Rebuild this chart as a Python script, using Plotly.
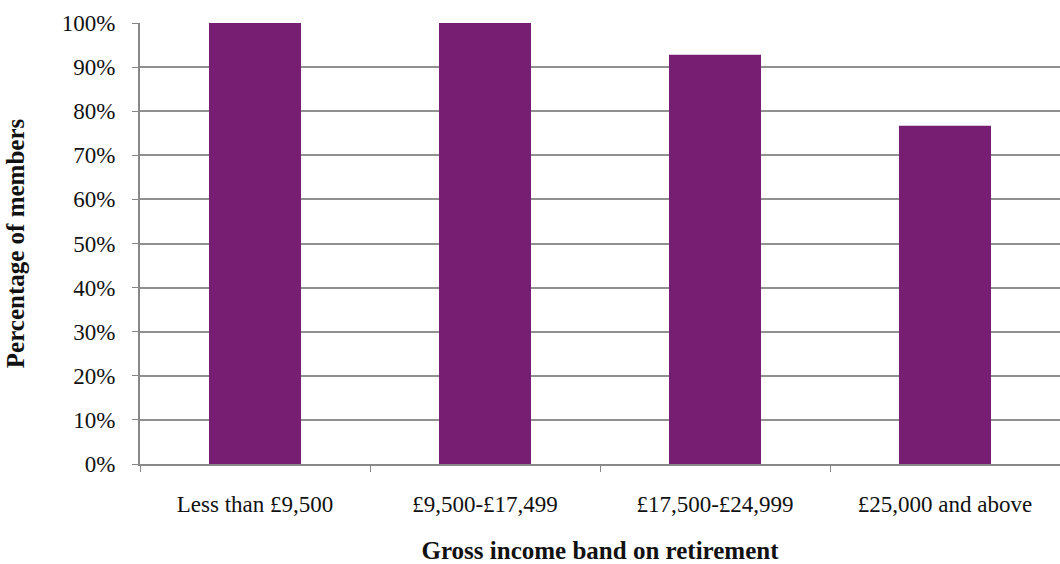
import plotly.graph_objects as go

categories = ["Less than £9,500", "£9,500-£17,499", "£17,500-£24,999", "£25,000 and above"]
values = [100, 100, 92.8, 76.7]
y_ticks = [0, 10, 20, 30, 40, 50, 60, 70, 80, 90, 100]
y_tick_labels = [f"{v}%" for v in y_ticks]

FONT = "Liberation Serif"

fig = go.Figure(go.Bar(x=categories, y=values, marker=dict(color="#781E72", line=dict(width=0)), width=0.4))

fig.update_layout(
    width=1060, height=564,
    margin=dict(l=140, r=0, t=23, b=100),
    paper_bgcolor="white", plot_bgcolor="white",
    font=dict(family=FONT, size=23, color="#111"),
    showlegend=False,
    xaxis=dict(
        type="category", tickson="boundaries", ticks="outside", ticklen=6, tickcolor="#888",
        showline=True, linecolor="#888", linewidth=2, showgrid=False, automargin=False,
        title=dict(text="<b>Gross income band on retirement</b>", font=dict(family=FONT, size=25), standoff=35),
        tickfont=dict(family=FONT, size=23),
        ticklabelstandoff=18,
    ),
    yaxis=dict(
        range=[0, 100], tickvals=y_ticks, ticktext=y_tick_labels, ticks="outside", ticklen=6, tickcolor="#888",
        showline=True, linecolor="#888", linewidth=2, showgrid=True, gridcolor="#909090", gridwidth=1.5,
        zeroline=False, automargin=False,
        title=dict(text="<b>Percentage of members</b>", font=dict(family=FONT, size=25), standoff=30),
        tickfont=dict(family=FONT, size=23),
        ticklabelstandoff=12,
    ),
)

fig.write_html("out.html", config={"displayModeBar": False},
               post_script="document.body.style.margin='0';document.body.style.overflow='hidden';")
